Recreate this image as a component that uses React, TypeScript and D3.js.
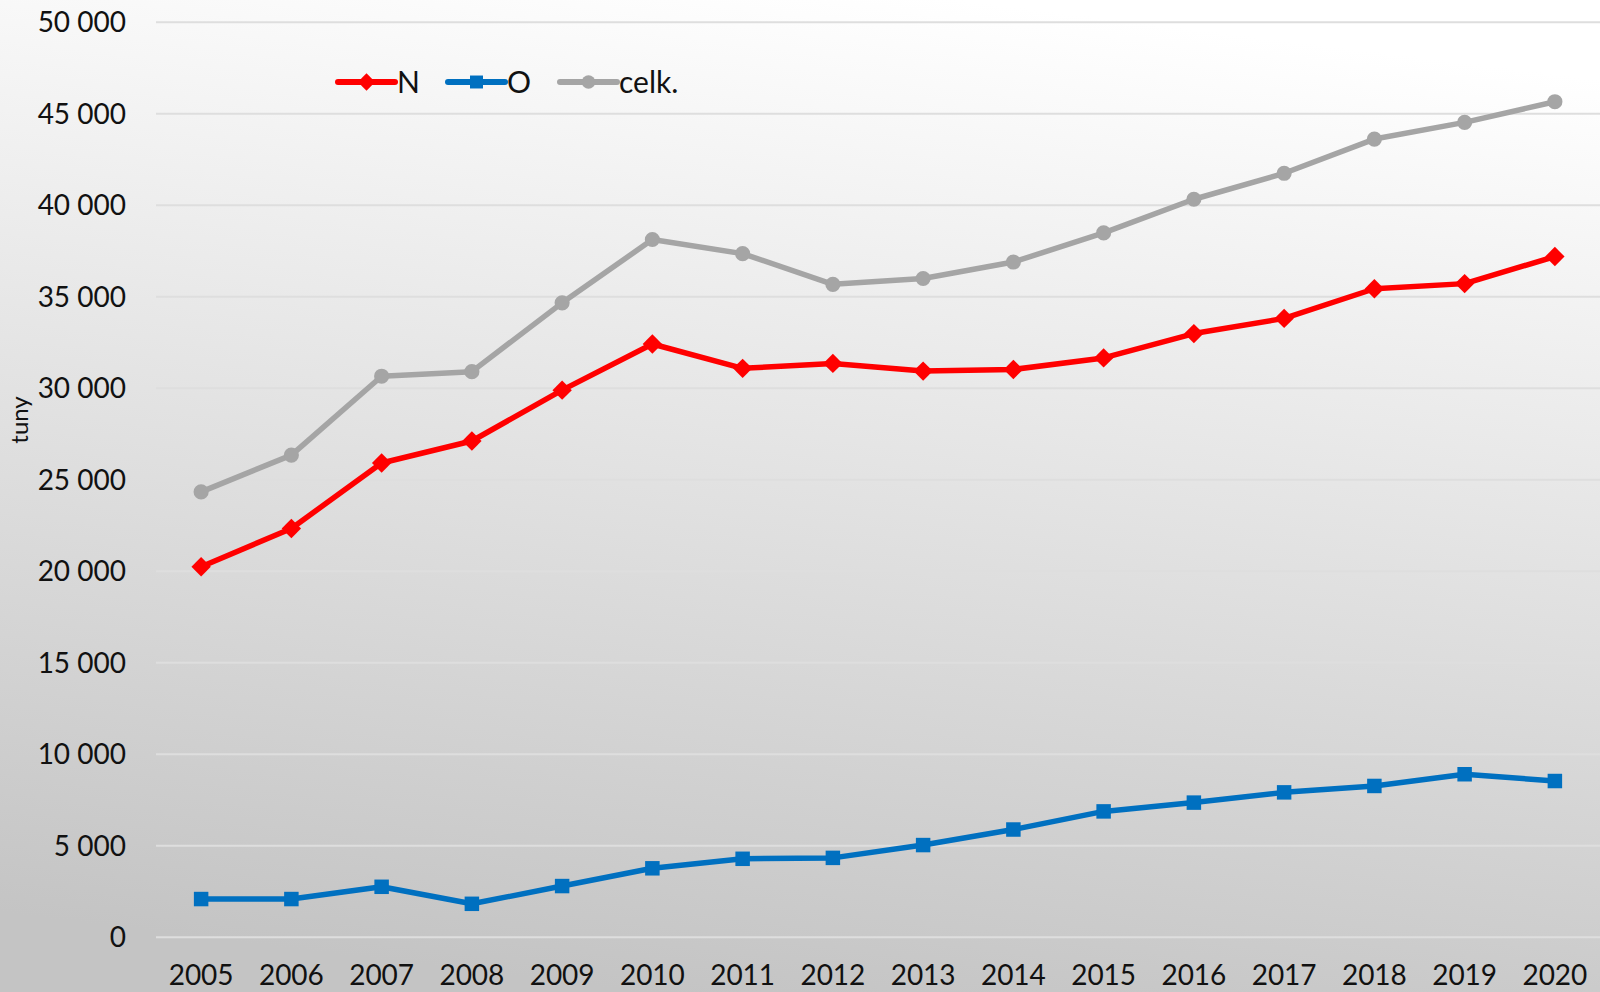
import {useEffect, useRef} from 'react';
import * as d3 from 'd3';

const years = ['2005', '2006', '2007', '2008', '2009', '2010', '2011', '2012', '2013', '2014', '2015', '2016', '2017', '2018', '2019', '2020'];
const seriesN = [20250, 22340, 25920, 27120, 29900, 32420, 31090, 31360, 30940, 31030, 31660, 32990, 33820, 35440, 35720, 37200];
const seriesO = [2090, 2090, 2760, 1830, 2800, 3770, 4290, 4340, 5040, 5890, 6880, 7360, 7920, 8270, 8910, 8540];
const seriesCelk = [24340, 26350, 30660, 30910, 34670, 38130, 37360, 35680, 36000, 36900, 38490, 40330, 41750, 43620, 44530, 45660];
const yTicks = [0, 5000, 10000, 15000, 20000, 25000, 30000, 35000, 40000, 45000, 50000];
const yLabel = 'tuny';

const series = [
  {name: 'N', values: seriesN, color: '#ff0000', marker: 'diamond'},
  {name: 'O', values: seriesO, color: '#0070c0', marker: 'square'},
  {name: 'celk.', values: seriesCelk, color: '#a5a5a5', marker: 'circle'},
];

const FONT = 'Lato, "Open Sans", sans-serif';

const App = () => {
  const svgRef = useRef<SVGSVGElement>(null);
  const width = 1600;
  const height = 992;

  useEffect(() => {
    const svg = d3.select(svgRef.current);
    svg.selectAll('*').remove();

    const margin = {top: 22, right: 0, bottom: 55, left: 156};

    // background gradient
    const defs = svg.append('defs');
    const grad = defs.append('linearGradient')
      .attr('id', 'bg')
      .attr('x1', '0.6').attr('y1', '0')
      .attr('x2', '0.4').attr('y2', '1');
    grad.append('stop').attr('offset', '0%').attr('stop-color', '#ffffff');
    grad.append('stop').attr('offset', '100%').attr('stop-color', '#c4c4c4');
    svg.append('rect')
      .attr('width', width).attr('height', height)
      .attr('fill', 'url(#bg)');

    const xScale = d3.scalePoint()
      .domain(years)
      .range([margin.left, width - margin.right])
      .padding(0.5);

    const yScale = d3.scaleLinear()
      .domain([0, 50000])
      .range([937.3, 22.3]);

    const fmt = (v: number) => d3.format(',')(v).replace(/,/g, ' ');

    // Grid
    svg.append('g')
      .selectAll('line')
      .data(yTicks)
      .enter().append('line')
      .attr('x1', margin.left)
      .attr('x2', width)
      .attr('y1', d => yScale(d))
      .attr('y2', d => yScale(d))
      .attr('stroke', '#dedede')
      .attr('stroke-width', 2);

    // y labels
    svg.append('g')
      .selectAll('text')
      .data(yTicks)
      .enter().append('text')
      .attr('x', 126)
      .attr('y', d => yScale(d))
      .attr('dy', '0.36em')
      .attr('text-anchor', 'end')
      .style('font-family', FONT)
      .style('font-size', '28px')
      .attr('fill', '#111')
      .text(d => fmt(d));

    // x labels
    svg.append('g')
      .selectAll('text')
      .data(years)
      .enter().append('text')
      .attr('x', d => xScale(d))
      .attr('y', 985)
      .attr('text-anchor', 'middle')
      .style('font-family', FONT)
      .style('font-size', '28px')
      .attr('fill', '#111')
      .text(d => d);

    // y-axis title
    svg.append('text')
      .attr('transform', `translate(28, 420) rotate(-90)`)
      .attr('text-anchor', 'middle')
      .style('font-family', FONT)
      .style('font-size', '24px')
      .attr('fill', '#111')
      .text(yLabel);

    const symbolFor = (m: string, size: number) => {
      const type = m === 'diamond' ? d3.symbolDiamond2 : m === 'square' ? d3.symbolSquare : d3.symbolCircle;
      return d3.symbol().type(type).size(size)();
    };
    const markerSize: Record<string, number> = {diamond: 240, square: 210, circle: 180};

    const line = d3.line<number>()
      .x((_, i) => xScale(years[i]) as number)
      .y(d => yScale(d));

    series.forEach(s => {
      svg.append('path')
        .datum(s.values)
        .attr('fill', 'none')
        .attr('stroke', s.color)
        .attr('stroke-width', 5.5)
        .attr('stroke-linejoin', 'round')
        .attr('d', line);

      svg.append('g')
        .selectAll('path')
        .data(s.values)
        .enter().append('path')
        .attr('d', symbolFor(s.marker, markerSize[s.marker]))
        .attr('transform', (d, i) => `translate(${xScale(years[i])}, ${yScale(d)})`)
        .attr('fill', s.color);
    });

    // Legend
    const legendX = [338, 448, 560];
    const legend = svg.append('g');
    series.forEach((s, i) => {
      const g = legend.append('g').attr('transform', `translate(${legendX[i]}, 82)`);
      g.append('line')
        .attr('x1', 0).attr('x2', 57)
        .attr('stroke', s.color)
        .attr('stroke-width', 6)
        .attr('stroke-linecap', 'round');
      g.append('path')
        .attr('d', symbolFor(s.marker, markerSize[s.marker] * 0.8))
        .attr('transform', 'translate(28.5, 0)')
        .attr('fill', s.color);
      g.append('text')
        .attr('x', 59)
        .attr('dy', '0.36em')
        .style('font-family', FONT)
        .style('font-size', '30px')
        .attr('fill', '#111')
        .text(s.name);
    });
  }, []);

  return (
    <svg
      ref={svgRef}
      width={width}
      height={height}
      style={{position: 'absolute', top: 0, left: 0, display: 'block'}}
    />
  );
};

export default App;
